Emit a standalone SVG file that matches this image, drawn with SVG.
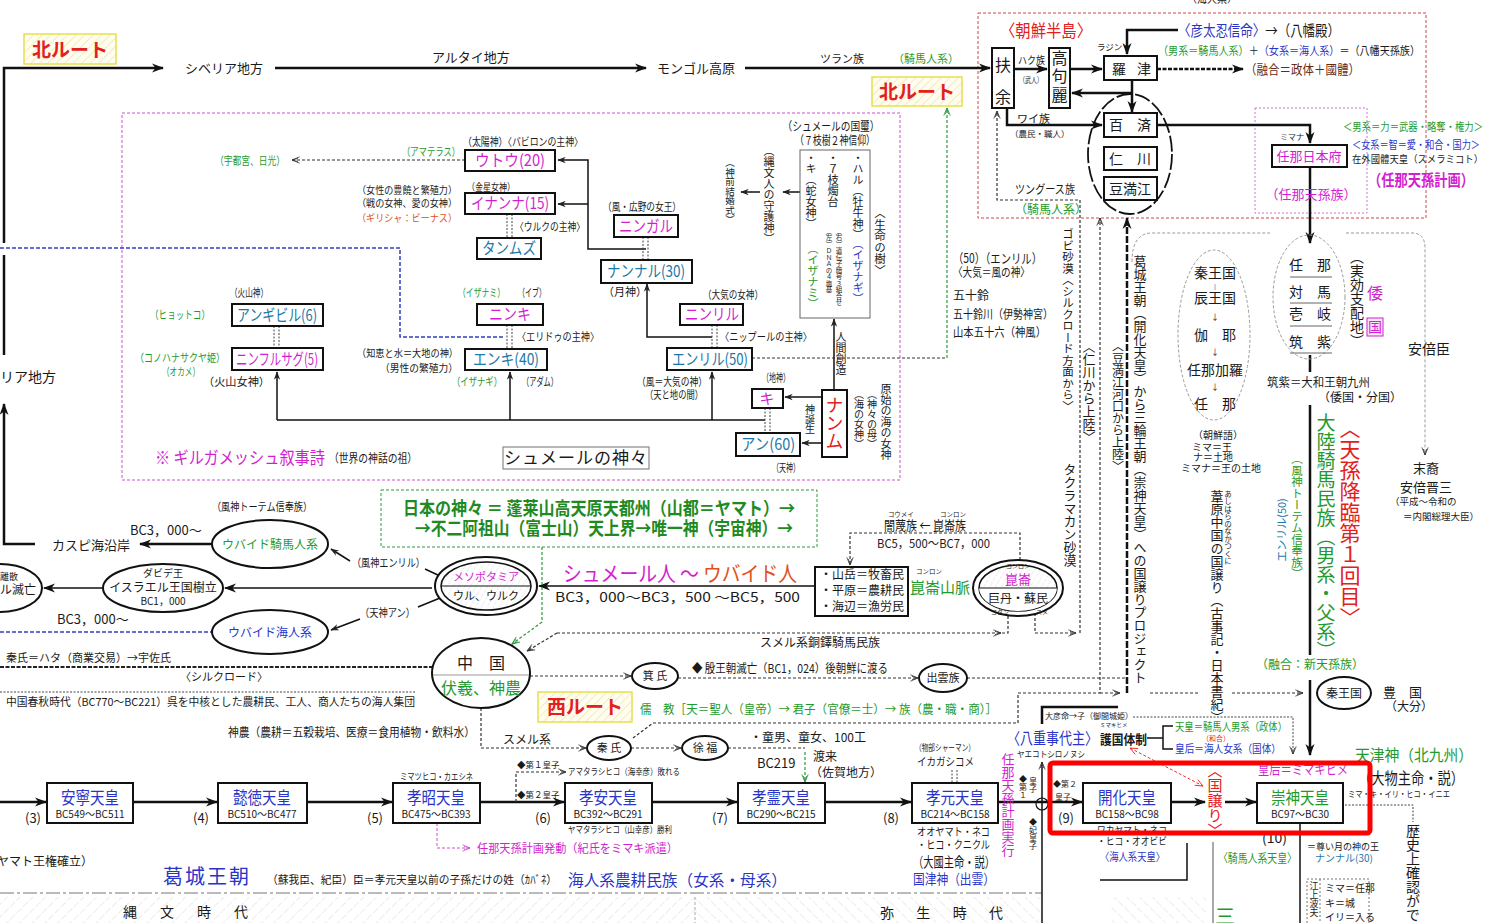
<svg xmlns="http://www.w3.org/2000/svg" width="1499" height="923" viewBox="0 0 1499 923">
<defs>
<style>
text{font-family:"Noto Sans CJK JP","Noto Sans",sans-serif;fill:#1a1a1a}
.m{fill:#d21fcf}.tl{fill:#1b78a8}.g{fill:#1f9a2c}.b{fill:#2a35c8}.r{fill:#e32020}.o{fill:#e0501a}.br{fill:#6a2a10}.dg{fill:#1f8a22}
.v{writing-mode:vertical-rl}
.mc{text-anchor:middle}
.bx{fill:#fff;stroke:#111;stroke-width:2}
.ln{fill:none;stroke:#111;stroke-width:1.5}
.tk{fill:none;stroke:#111;stroke-width:2.5}
.dl{fill:none;stroke:#333;stroke-width:1.2;stroke-dasharray:3 2}
.dd{fill:none;stroke:#444;stroke-width:1;stroke-dasharray:2 1.5}
.gd{fill:none;stroke:#2a9a3a;stroke-width:1.2;stroke-dasharray:3 2}
.pd{fill:none;stroke:#d050d0;stroke-width:1;stroke-dasharray:3 2}
.bd{fill:none;stroke:#3040c0;stroke-width:1.5;stroke-dasharray:4 2}
.el{fill:#fff;stroke:#111;stroke-width:2}
.yb{fill:url(#hy);stroke:#e6e04a;stroke-width:1.5}
</style>
<marker id="a" viewBox="0 0 12 10" refX="11" refY="5" markerWidth="12" markerHeight="10" orient="auto" markerUnits="userSpaceOnUse"><path d="M0,0.5 L12,5 L0,9.5 L3.5,5 z" fill="#111"/></marker>
<marker id="as" viewBox="0 0 12 10" refX="11" refY="5" markerWidth="9" markerHeight="7" orient="auto" markerUnits="userSpaceOnUse"><path d="M0,0.5 L12,5 L0,9.5 L3.5,5 z" fill="#222"/></marker>
<marker id="ao" viewBox="0 0 10 10" refX="9.5" refY="5" markerWidth="9" markerHeight="8" orient="auto" markerUnits="userSpaceOnUse"><path d="M0,1 L9.5,5 L0,9 M2,3 L9.5,5 L2,7" fill="none" stroke="#333" stroke-width="1"/></marker>
<marker id="ag" viewBox="0 0 10 10" refX="9.5" refY="5" markerWidth="9" markerHeight="8" orient="auto" markerUnits="userSpaceOnUse"><path d="M0,1 L9.5,5 L0,9 M2,3 L9.5,5 L2,7" fill="none" stroke="#2a9a3a" stroke-width="1.1"/></marker>
<marker id="ap" viewBox="0 0 10 10" refX="9.5" refY="5" markerWidth="9" markerHeight="8" orient="auto" markerUnits="userSpaceOnUse"><path d="M0,1 L9.5,5 L0,9 M2,3 L9.5,5 L2,7" fill="none" stroke="#d050d0" stroke-width="1"/></marker>
<marker id="ar" viewBox="0 0 10 10" refX="9.5" refY="5" markerWidth="10" markerHeight="8" orient="auto-start-reverse" markerUnits="userSpaceOnUse"><path d="M0,1 L9.5,5 L0,9" fill="none" stroke="#e03030" stroke-width="1.1"/></marker>
<pattern id="hy" width="6" height="6" patternUnits="userSpaceOnUse" patternTransform="rotate(45)"><rect width="6" height="6" fill="#fffdf0"/><line x1="0" y1="0" x2="0" y2="6" stroke="#ece3a0" stroke-width="1.3"/></pattern>
<pattern id="hg" width="9" height="9" patternUnits="userSpaceOnUse" patternTransform="rotate(45)"><line x1="0" y1="0" x2="0" y2="9" stroke="#cfcfcf" stroke-width="0.8" stroke-dasharray="4 2"/></pattern>
<pattern id="hp" width="9" height="9" patternUnits="userSpaceOnUse" patternTransform="rotate(-45)"><line x1="0" y1="0" x2="0" y2="9" stroke="#e2caca" stroke-width="0.8" stroke-dasharray="4 2"/></pattern>
<pattern id="hd" width="5" height="5" patternUnits="userSpaceOnUse" patternTransform="rotate(30)"><rect width="5" height="5" fill="#fff"/><line x1="0" y1="0" x2="0" y2="5" stroke="#bbb" stroke-width="0.7" stroke-dasharray="1.5 1.5"/></pattern>
</defs>
<rect width="1499" height="923" fill="#fff"/>

<g id="frames">
<rect x="122" y="113" width="778" height="367" fill="none" stroke="#d050d0" stroke-width="1" stroke-dasharray="3 2"/>
<rect x="978" y="13" width="448" height="205" fill="none" stroke="#d04848" stroke-width="1" stroke-dasharray="3 2"/>
<rect x="1255" y="108" width="112" height="105" fill="none" stroke="#d070d0" stroke-width="1" stroke-dasharray="2 2"/>
<rect x="381" y="490" width="436" height="57" fill="none" stroke="#2a9a3a" stroke-width="1" stroke-dasharray="3 2"/>
<rect x="0" y="897" width="695" height="26" fill="url(#hg)"/>
<rect x="695" y="897" width="347" height="26" fill="url(#hp)"/>
<rect x="1110" y="897" width="97" height="26" fill="url(#hp)"/>
<line x1="695" y1="897" x2="695" y2="923" stroke="#aaa" stroke-dasharray="3 2"/>
<path d="M0,893 H1042" fill="none" stroke="#777" stroke-width="1" stroke-dasharray="14 3 3 3"/>
<rect x="1307" y="879" width="62" height="50" fill="none" stroke="#777" stroke-width="1" stroke-dasharray="2 2"/>
<line x1="1320" y1="879" x2="1320" y2="923" stroke="#777" stroke-dasharray="2 2"/>
</g>

<g id="connectors">
<path class="tk" d="M4,243 V68 H163" marker-end="url(#a)"/>
<path class="tk" d="M4,255 V355"/>
<path class="tk" d="M275,68 H646" marker-end="url(#a)"/>
<path class="tk" d="M745,68 H990" marker-end="url(#a)"/>
<path class="tk" d="M1014,69 H1047" marker-end="url(#a)"/>
<path class="tk" d="M1070,69 H1102" marker-end="url(#a)"/>
<path class="tk" d="M1132,80 V112" marker-end="url(#a)"/>
<path class="tk" d="M1132,93 H1072" marker-end="url(#a)"/>
<path class="tk" d="M1178,30 H1127 V54" marker-end="url(#a)"/>
<path class="tk" d="M1157,69 H1243" stroke-dasharray="4 1.5" marker-end="url(#a)"/>
<path class="tk" d="M1007,108 V125 H1102" marker-end="url(#a)"/>
<path class="tk" d="M1157,125 H1310 V143" marker-end="url(#a)"/>
<path class="tk" d="M1310,167 V243" marker-end="url(#a)"/>
<path class="tk" d="M1127,693 V218" stroke-dasharray="7 2" marker-end="url(#a)"/>
<path class="dl" d="M1080,633 V200 H997 V111" marker-end="url(#ao)"/>
<path class="dl" d="M1035,613 V633 H1076" marker-end="url(#ao)"/>
<path class="dl" d="M633,738 L653,723 H1018 V693 H1100 V218" marker-end="url(#ao)"/>
<path class="dl" d="M1100,693 H1120" marker-end="url(#ao)"/>
<path class="dl" d="M1008,616 V633 H1001"/>
<path class="dl" d="M557,633 H1001" marker-end="url(#ao)"/>
<path class="dl" d="M557,633 L527,651" marker-end="url(#ao)"/>
<path class="dl" d="M465,160 H292" marker-end="url(#ao)"/>
<path class="ln" d="M646,249 H588 V160 H558" marker-end="url(#as)"/>
<path class="ln" d="M588,204 H558" marker-end="url(#as)"/>
<path class="ln" d="M712,337 H647 V284" marker-end="url(#as)"/>
<path class="ln" d="M277,420 H765"/>
<path class="ln" d="M277,420 V372" marker-end="url(#as)"/>
<path class="ln" d="M510,420 V372" marker-end="url(#as)"/>
<path class="ln" d="M712,420 V372" marker-end="url(#as)"/>
<path class="ln" d="M822,397 H785" marker-end="url(#as)"/>
<path class="ln" d="M822,443 H802" marker-end="url(#as)"/>
<path class="ln" d="M834,390 V319" marker-end="url(#as)"/>
<path class="ln" d="M800,192 H783" marker-end="url(#as)"/>
<path class="ln" d="M760,192 H741" marker-end="url(#as)"/>
<path class="dl" d="M752,358 H947"/>
<path class="gd" d="M947,358 V108" marker-end="url(#ag)"/>
<path class="bd" d="M0,248 H400 V337 H505"/>
<path class="dd" d="M507,214 V238 M512,214 V238 M643,237 V260 M648,237 V260 M507,325 V348 M512,325 V348 M712,325 V348 M717,325 V348 M274,326 V348 M279,326 V348 M765,408 V433 M770,408 V433 M952,770 V783 M957,770 V783"/>
<path class="tk" d="M212,544 H140" stroke-width="2" marker-end="url(#a)"/>
<path class="tk" d="M35,544 H4 V404" stroke-width="2" marker-end="url(#a)"/>
<path class="ln" d="M350,561 L331,549" marker-end="url(#as)"/>
<path class="ln" d="M425,569 L440,576"/>
<path class="ln" d="M432,588 H225" marker-end="url(#a)"/>
<path class="ln" d="M103,588 H44" marker-end="url(#a)"/>
<path class="ln" d="M815,586 H539" marker-end="url(#a)"/>
<path class="ln" d="M360,619 L331,630" marker-end="url(#as)"/>
<path class="ln" d="M440,598 L418,607"/>
<path class="bd" d="M0,632 H212" stroke-width="1.2"/>
<path class="gd" d="M542,547 V622 L512,644" marker-end="url(#ag)"/>
<path class="dl" d="M1020,560 V533 H850 V565" marker-end="url(#ao)"/>
<path d="M0,667 H432" fill="none" stroke="#222" stroke-width="2" stroke-dasharray="4 1.5"/>
<path class="dd" d="M0,692 H416"/>
<path class="dl" d="M530,676 H631" marker-end="url(#ao)"/>
<path class="dl" d="M678,678 H918" marker-end="url(#ao)"/>
<path class="dl" d="M967,678 H1125"/>
<path class="dl" d="M481,708 V748 H586" marker-end="url(#ao)"/>
<path class="dl" d="M631,748 H681" marker-end="url(#ao)"/>
<path class="dl" d="M728,748 H805"/>
<path class="gd" d="M805,752 V782" marker-end="url(#ag)"/>
<path class="tk" stroke-width="2" d="M0,802 H46" marker-end="url(#a)"/>
<path class="tk" stroke-width="2" d="M133,802 H217" marker-end="url(#a)"/>
<path class="tk" stroke-width="2" d="M307,802 H392" marker-end="url(#a)"/>
<path class="tk" stroke-width="2" d="M480,802 H564" marker-end="url(#a)"/>
<path class="tk" stroke-width="2" d="M652,802 H737" marker-end="url(#a)"/>
<path class="tk" stroke-width="2" d="M825,802 H911" marker-end="url(#a)"/>
<path class="tk" stroke-width="2" d="M998,802 H1082" marker-end="url(#a)"/>
<path class="tk" d="M1171,802 H1205" marker-end="url(#a)"/>
<path class="tk" d="M1225,802 H1256" marker-end="url(#a)"/>
<path class="dl" d="M516,802 V772 H566" marker-end="url(#ao)"/>
<path class="pd" d="M437,823 V848 H470" marker-end="url(#ap)"/>
<path class="tk" d="M1118,707 H1042 V724" stroke-width="2"/>
<path class="ln" d="M1042,923 V762" marker-end="url(#ao)"/>
<circle cx="1042" cy="804" r="6" fill="none" stroke="#111" stroke-width="1.2"/>
<path class="ln" d="M1147,738 H1163 M1173,726 H1163 V749 H1173" stroke-width="1"/>
<path d="M1130,748 L1203,786" fill="none" stroke="#e03030" stroke-width="1" stroke-dasharray="3 2" marker-start="url(#ar)" marker-end="url(#ar)"/>
<path class="dd" d="M1133,717 H1293 V754" marker-end="url(#ao)"/>
<path class="dd" d="M1345,805 H1413 V822"/>
<path class="ln" d="M1300,823 V923"/>
<path class="tk" d="M1310,355 V372 M1310,405 V655"/>
<path class="tk" d="M1310,680 V755" marker-end="url(#a)"/>
<path class="dl" d="M1150,693 H1200 M1232,693 H1303" marker-end="url(#ao)"/>
<path d="M1132,262 Q1132,233 1152,233 H1270 M1346,233 H1412 Q1425,233 1425,248 V455" fill="none" stroke="#999" stroke-width="1" stroke-dasharray="3 2" marker-end="url(#ao)"/>
<path class="ln" d="M1100,880 H1187 V843" stroke-width="1"/>
<path d="M1213,842 V923" fill="none" stroke="#555" stroke-width="1"/>
</g>

<g id="n-kita1"><rect class="yb" x="24" y="34" width="92" height="30"/><text x="70" y="57" font-size="19" font-weight="bold" class="r mc">北ルート</text></g>
<g id="n-kita2"><rect class="yb" x="872" y="77" width="90" height="29"/><text x="917" y="99" font-size="19" font-weight="bold" class="r mc">北ルート</text></g>
<g id="n-nishi"><rect class="yb" x="538" y="692" width="94" height="30"/><text x="585" y="714" font-size="19" font-weight="bold" class="r mc">西ルート</text></g>

<g id="labels-north" font-size="13">
<text x="185" y="73">シベリア地方</text>
<text x="432" y="62">アルタイ地方</text>
<text x="657" y="73">モンゴル高原</text>
<text x="820" y="63" font-size="11">ツラン族</text>
<text x="893" y="63" font-size="11" class="g">（騎馬人系）</text>
<text x="0" y="382" font-size="14">リア地方</text>
</g>

<g id="korea">
<text x="1046" y="37" font-size="17" class="r mc" textLength="92" lengthAdjust="spacingAndGlyphs">〈朝鮮半島〉</text>
<text x="1187" y="3" font-size="10">（海人系）</text>
<g id="n-fuyo"><rect class="bx" x="992" y="48" width="22" height="60" stroke-width="1.5"/><text x="1003" y="71" font-size="16" class="mc">扶</text><text x="1003" y="103" font-size="16" class="mc">余</text></g>
<g id="n-koguryo"><rect class="bx" x="1049" y="48" width="21" height="60" stroke-width="1.5"/><text x="1059.5" y="64" font-size="16" class="mc">高</text><text x="1059.5" y="82" font-size="16" class="mc">句</text><text x="1059.5" y="101" font-size="16" class="mc">麗</text></g>
<g id="n-rashin"><rect class="bx" x="1104" y="56" width="53" height="24" stroke-width="3"/><text x="1119" y="74" font-size="14" fill="#a02020" class="mc">羅</text><text x="1144" y="74" font-size="14" fill="#a02020" class="mc">津</text></g>
<text x="1097" y="50" font-size="8.5">ラジン</text>
<text x="1018" y="64" font-size="10" textLength="27" lengthAdjust="spacingAndGlyphs">ハク族</text>
<text x="1019" y="83" font-size="8" textLength="24" lengthAdjust="spacingAndGlyphs">（武人）</text>
<text x="1017" y="123" font-size="11">ワイ族</text>
<text x="1010" y="137" font-size="8.5">（農民・職人）</text>
<text x="1178" y="36" font-size="15" textLength="162" lengthAdjust="spacingAndGlyphs"><tspan class="b">〈彦太忍信命〉</tspan><tspan>→（八幡殿）</tspan></text>
<text x="1158" y="55" font-size="11.5" textLength="262" lengthAdjust="spacingAndGlyphs"><tspan class="g">（男系＝騎馬人系）</tspan><tspan>＋</tspan><tspan class="b">（女系＝海人系）</tspan><tspan>＝（八幡天孫族）</tspan></text>
<text x="1245" y="74" font-size="13" class="br" textLength="115" lengthAdjust="spacingAndGlyphs">（融合＝政体＋國體）</text>
<g id="n-peninsula"><ellipse cx="1130" cy="154" rx="42" ry="60" fill="none" stroke="#111" stroke-width="1.8" stroke-dasharray="16 3"/>
<rect class="bx" x="1104" y="113" width="53" height="24" stroke-width="1.5"/><text x="1130" y="130" font-size="14" class="mc">百　済</text>
<rect class="bx" x="1104" y="147" width="53" height="23" stroke-width="1.5"/><text x="1130" y="164" font-size="14" class="mc">仁　川</text>
<rect class="bx" x="1104" y="177" width="53" height="23" stroke-width="1.5"/><text x="1130" y="194" font-size="14" class="mc">豆満江</text></g>
<text x="1015" y="194" font-size="12" textLength="60" lengthAdjust="spacingAndGlyphs">ツングース族</text>
<text x="1015" y="214" font-size="12" class="g">（騎馬人系）</text>
<text x="1280" y="140" font-size="8">ミマナ</text>
<g id="n-mimana-fu"><rect class="bx" x="1272" y="145" width="75" height="22" stroke-width="1.5"/><text x="1309" y="161" font-size="13" class="m mc">任那日本府</text></g>
<text x="1311" y="199" font-size="13" class="m mc">（任那天孫族）</text>
<text x="1343" y="131" font-size="11" class="g" textLength="140" lengthAdjust="spacingAndGlyphs">＜男系＝力＝武器・略奪・権力＞</text>
<text x="1352" y="149" font-size="11" class="b" textLength="128" lengthAdjust="spacingAndGlyphs">＜女系＝智＝愛・和合・国力＞</text>
<text x="1352" y="163" font-size="10" fill="#202080" textLength="131" lengthAdjust="spacingAndGlyphs">在外國體天皇（スメラミコト）</text>
<text x="1368" y="186" font-size="16" class="m" font-weight="bold" textLength="106" lengthAdjust="spacingAndGlyphs">（任那天孫計画）</text>
</g>

<g id="sumer" font-size="11">
<text x="215" y="165" font-size="11" class="g" textLength="70" lengthAdjust="spacingAndGlyphs">（宇都宮、日光）</text>
<text x="402" y="156" class="g" textLength="58" lengthAdjust="spacingAndGlyphs">（アマテラス）</text>
<text x="463" y="146" textLength="120" lengthAdjust="spacingAndGlyphs">（太陽神）〈バビロンの主神〉</text>
<g id="n-utu"><rect class="bx" x="465" y="150" width="90" height="21"/><text x="510" y="166" font-size="16" class="m mc" textLength="70" lengthAdjust="spacingAndGlyphs">ウトウ(20)</text></g>
<text x="357" y="194" font-size="10" textLength="100" lengthAdjust="spacingAndGlyphs">（女性の豊饒と繁殖力）</text>
<text x="357" y="207" font-size="10" textLength="100" lengthAdjust="spacingAndGlyphs">（戦の女神、愛の女神）</text>
<text x="357" y="222" font-size="10" class="o" textLength="100" lengthAdjust="spacingAndGlyphs">（ギリシャ：ビーナス）</text>
<text x="467" y="191" font-size="10" textLength="48" lengthAdjust="spacingAndGlyphs">（金星女神）</text>
<g id="n-inanna"><rect class="bx" x="465" y="193" width="90" height="21"/><text x="510" y="209" font-size="16" class="m mc" textLength="78" lengthAdjust="spacingAndGlyphs">イナンナ(15)</text></g>
<text x="515" y="231" textLength="70" lengthAdjust="spacingAndGlyphs">〈ウルクの主神〉</text>
<g id="n-tammuz"><rect class="bx" x="477" y="238" width="64" height="21"/><text x="509" y="254" font-size="16" class="tl mc" textLength="54" lengthAdjust="spacingAndGlyphs">タンムズ</text></g>
<text x="603" y="211" textLength="78" lengthAdjust="spacingAndGlyphs">（風・広野の女王）</text>
<g id="n-ningal"><rect class="bx" x="614" y="215" width="64" height="22"/><text x="646" y="232" font-size="16" class="m mc" textLength="54" lengthAdjust="spacingAndGlyphs">ニンガル</text></g>
<g id="n-nannar"><rect class="bx" x="601" y="260" width="91" height="23"/><text x="646" y="277" font-size="16" class="tl mc" textLength="78" lengthAdjust="spacingAndGlyphs">ナンナル(30)</text></g>
<text x="603" y="296">（月神）</text>
<text x="703" y="299" textLength="60" lengthAdjust="spacingAndGlyphs">（大気の女神）</text>
<g id="n-ninlil"><rect class="bx" x="680" y="304" width="63" height="21"/><text x="712" y="320" font-size="16" class="m mc" textLength="54" lengthAdjust="spacingAndGlyphs">ニンリル</text></g>
<text x="720" y="341" textLength="92" lengthAdjust="spacingAndGlyphs">〈ニップールの主神〉</text>
<g id="n-enlil"><rect class="bx" x="667" y="348" width="85" height="22"/><text x="710" y="365" font-size="16" class="tl mc" textLength="76" lengthAdjust="spacingAndGlyphs">エンリル(50)</text></g>
<text x="637" y="386" textLength="70" lengthAdjust="spacingAndGlyphs">（風＝大気の神）</text>
<text x="645" y="399" textLength="58" lengthAdjust="spacingAndGlyphs">（天と地の間）</text>
<text x="458" y="297" class="g" textLength="47" lengthAdjust="spacingAndGlyphs">（イザナミ）</text>
<text x="518" y="297" textLength="28" lengthAdjust="spacingAndGlyphs">（イブ）</text>
<g id="n-ninki"><rect class="bx" x="477" y="304" width="66" height="21"/><text x="510" y="320" font-size="16" class="m mc" textLength="42" lengthAdjust="spacingAndGlyphs">ニンキ</text></g>
<text x="517" y="341" textLength="82" lengthAdjust="spacingAndGlyphs">〈エリドゥの主神〉</text>
<text x="357" y="357" font-size="10.5" textLength="101" lengthAdjust="spacingAndGlyphs">（知恵と水＝大地の神）</text>
<text x="380" y="372" font-size="10.5" textLength="78" lengthAdjust="spacingAndGlyphs">（男性の繁殖力）</text>
<g id="n-enki"><rect class="bx" x="465" y="349" width="82" height="21"/><text x="506" y="365" font-size="16" class="tl mc" textLength="66" lengthAdjust="spacingAndGlyphs">エンキ(40)</text></g>
<text x="452" y="386" class="g" textLength="50" lengthAdjust="spacingAndGlyphs">（イザナギ）</text>
<text x="522" y="386" textLength="36" lengthAdjust="spacingAndGlyphs">（アダム）</text>
<text x="230" y="297" textLength="38" lengthAdjust="spacingAndGlyphs">（火山神）</text>
<g id="n-angibil"><rect class="bx" x="232" y="304" width="91" height="22"/><text x="277" y="321" font-size="16" class="tl mc" textLength="80" lengthAdjust="spacingAndGlyphs">アンギビル(6)</text></g>
<text x="150" y="319" class="g" textLength="60" lengthAdjust="spacingAndGlyphs">（ヒョットコ）</text>
<g id="n-ninhursag"><rect class="bx" x="232" y="348" width="91" height="22"/><text x="277" y="365" font-size="16" class="m mc" textLength="82" lengthAdjust="spacingAndGlyphs">ニンフルサグ(5)</text></g>
<text x="135" y="362" class="g" textLength="90" lengthAdjust="spacingAndGlyphs">（コノハナサクヤ姫）</text>
<text x="162" y="376" class="g" textLength="38" lengthAdjust="spacingAndGlyphs">（オカメ）</text>
<text x="203" y="386" textLength="67" lengthAdjust="spacingAndGlyphs">（火山女神）</text>
<text x="155" y="464" font-size="17" class="m" textLength="170" lengthAdjust="spacingAndGlyphs">※ ギルガメッシュ叙事詩</text>
<text x="329" y="463" font-size="12" textLength="88" lengthAdjust="spacingAndGlyphs">（世界の神話の祖）</text>
<g id="n-sumer-title"><rect x="503" y="447" width="146" height="22" fill="#fff" stroke="#888" stroke-width="1.2"/><text x="576" y="464" font-size="17" class="mc" letter-spacing="1">シュメールの神々</text></g>
<text x="762" y="382" textLength="28" lengthAdjust="spacingAndGlyphs">（地神）</text>
<g id="n-ki"><rect class="bx" x="752" y="389" width="31" height="19"/><text x="767" y="404" font-size="15" class="m mc">キ</text></g>
<g id="n-an"><rect class="bx" x="736" y="433" width="64" height="23"/><text x="768" y="450" font-size="16" class="tl mc" textLength="54" lengthAdjust="spacingAndGlyphs">アン(60)</text></g>
<text x="772" y="472" textLength="28" lengthAdjust="spacingAndGlyphs">（天神）</text>
<g id="n-nammu"><rect class="bx" x="822" y="390" width="25" height="67"/><text x="834.5" y="396" font-size="18" class="r v">ナンム</text></g>
<text x="810" y="404" font-size="10" class="v">神誕生</text>
<text x="841" y="331" font-size="11" class="v">人間創造</text>
<text x="859" y="389" font-size="10" class="v">（海の女神）</text>
<text x="872" y="389" font-size="10" class="v">（神々の母）</text>
<text x="886" y="383" font-size="11" class="v">原始の海の女神</text>
<text x="831" y="131" font-size="12" class="mc" textLength="97" lengthAdjust="spacingAndGlyphs">（シュメールの国璽）</text>
<text x="835" y="145" font-size="12" class="mc" textLength="80" lengthAdjust="spacingAndGlyphs">（７枝樹２神信仰）</text>
<g id="n-seal"><rect x="800" y="150" width="70" height="168" fill="#fff" stroke="#666" stroke-width="1"/>
<text x="858" y="152" font-size="11" class="v">・ハル（牡牛神）</text>
<text x="858" y="238" font-size="11" class="v b">（イザナギ）</text>
<text x="833" y="152" font-size="11" class="v">・７枝燭台</text>
<text x="839" y="228" font-size="6.5" class="v">（右）遺伝子暗号３組合せ</text>
<text x="829" y="228" font-size="6.5" class="v">（左）ＤＮＡの４塩基</text>
<text x="811" y="152" font-size="11" class="v">・キ（蛇女神）</text>
<text x="813" y="243" font-size="11" class="v g">（イザナミ）</text></g>
<text x="880" y="207" font-size="11.5" class="v">〈生命の樹〉</text>
<text x="769" y="145" font-size="11" class="v">（縄文人の守護神）</text>
<text x="730" y="158" font-size="9.5" class="v">（神前結婚式）</text>
</g>

<g id="east-labels" font-size="12">
<text x="953" y="263" font-size="13" textLength="89" lengthAdjust="spacingAndGlyphs">（50）（エンリル）</text>
<text x="953" y="277" textLength="77" lengthAdjust="spacingAndGlyphs">〈大気＝風の神〉</text>
<text x="953" y="300">五十鈴</text>
<text x="953" y="319" textLength="100" lengthAdjust="spacingAndGlyphs">五十鈴川（伊勢神宮）</text>
<text x="953" y="337" textLength="93" lengthAdjust="spacingAndGlyphs">山本五十六（神風）</text>
<text x="1068" y="228" font-size="11.5" class="v">ゴビ砂漠〈シルクロード方面から〉</text>
<text x="1070" y="463" font-size="13" class="v">タクラマカン砂漠</text>
<text x="1089" y="340" font-size="13" class="v">〈仁川から上陸〉</text>
<text x="1118" y="340" font-size="12" class="v">〈豆満江河口から上陸〉</text>
<text x="1140" y="255" font-size="13" class="v">葛城王朝（開化天皇）から三輪王朝（崇神天皇）への国譲りプロジェクト</text>
</g>

<g id="japan-right" font-size="12">
<g id="n-kingdoms"><ellipse cx="1214" cy="335" rx="36" ry="85" fill="none" stroke="#999" stroke-width="1" stroke-dasharray="3 2"/>
<text x="1215" y="278" font-size="14" class="mc">秦王国</text>
<text x="1215" y="289" font-size="6" class="mc" fill="#777">‖</text>
<text x="1215" y="303" font-size="14" class="mc">辰王国</text>
<text x="1215" y="320" font-size="8" class="mc" fill="#777">↓</text>
<text x="1215" y="340" font-size="14" class="mc">伽　耶</text>
<text x="1215" y="355" font-size="8" class="mc" fill="#777">↓</text>
<text x="1215" y="375" font-size="14" class="mc">任那加羅</text>
<text x="1215" y="390" font-size="8" class="mc" fill="#777">↓</text>
<text x="1215" y="409" font-size="14" class="mc">任　那</text></g>
<text x="1218" y="439" font-size="10" class="mc">（朝鮮語）</text>
<text x="1212" y="451" font-size="10" class="mc">ミマ＝王</text>
<text x="1213" y="461" font-size="10" class="mc">ナ＝土地</text>
<text x="1221" y="472" font-size="10" class="mc">ミマナ＝王の土地</text>
<text x="1217" y="490" font-size="13" class="v">葦原中国の国譲り（古事記・日本書紀）</text>
<text x="1228" y="490" font-size="7.5" class="v">あしはらのなかつくに</text>
<g id="n-islands"><ellipse cx="1309" cy="297" rx="36" ry="62" fill="none" stroke="#999" stroke-width="1" stroke-dasharray="3 2"/>
<text x="1310" y="270" font-size="14" class="mc">任　那</text>
<path d="M1290,277 H1332 M1290,303 H1332 M1290,326 H1332 M1290,353 H1332" stroke="#666" stroke-width="1"/>
<text x="1310" y="297" font-size="14" class="mc">対　馬</text>
<text x="1310" y="319" font-size="14" class="mc">壱　岐</text>
<text x="1310" y="347" font-size="14" class="mc">筑　紫</text></g>
<text x="1357" y="250" font-size="14" class="v">（実効支配地）</text>
<text x="1375" y="299" font-size="16" class="m mc">倭</text>
<rect x="1367" y="318" width="16" height="18" fill="#fbe6fb" stroke="#d21fcf" stroke-width="1"/>
<text x="1375" y="332" font-size="14" class="m mc">国</text>
<text x="1408" y="354" font-size="14">安倍臣</text>
<text x="1267" y="387" textLength="103" lengthAdjust="spacingAndGlyphs">筑紫＝大和王朝九州</text>
<text x="1318" y="402">（倭国・分国）</text>
<text x="1326" y="413" font-size="19" class="v g">大陸騎馬民族（男系・父系）</text>
<text x="1350" y="418" font-size="21" class="v r">〈天孫降臨第１回目〉</text>
<text x="1297" y="453" font-size="11.5" class="v g">（風神トーテム信奉族）</text>
<text transform="translate(1286,530) rotate(-90)" font-size="11" class="tl mc">エンリル(50)</text>
<text x="1310" y="669" class="g mc">（融合：新天孫族）</text>
<g id="n-hata-kingdom"><ellipse class="el" cx="1344" cy="693" rx="27" ry="16" stroke-width="1.5"/><text x="1344" y="698" font-size="12" class="mc">秦王国</text></g>
<text x="1383" y="697" font-size="13">豊　国</text>
<text x="1385" y="711">（大分）</text>
<text x="1426" y="473" font-size="13" class="mc">末裔</text>
<text x="1426" y="492" font-size="13" class="mc">安倍晋三</text>
<text x="1390" y="505" font-size="9.5">（平成～令和の</text>
<text x="1403" y="520" font-size="9.5">＝内閣総理大臣）</text>
</g>

<g id="middle" font-size="12">
<text x="403" y="515" font-size="18" font-weight="bold" class="dg" textLength="392" lengthAdjust="spacingAndGlyphs">日本の神々 ＝ 蓬莱山高天原天都州（山都＝ヤマト）→</text>
<text x="415" y="535" font-size="18" font-weight="bold" class="dg" textLength="378" lengthAdjust="spacingAndGlyphs">→不二阿祖山（富士山）天上界→唯一神（宇宙神）→</text>
<text x="212" y="511" font-size="11" textLength="100" lengthAdjust="spacingAndGlyphs">（風神トーテム信奉族）</text>
<g id="n-ubaid-horse"><ellipse class="el" cx="270" cy="544" rx="58" ry="24"/><text x="270" y="549" class="g mc">ウバイド騎馬人系</text></g>
<text x="130" y="535" font-size="13">BC3，000～</text>
<text x="52" y="550" font-size="13">カスピ海沿岸</text>
<text x="352" y="567" font-size="11" textLength="73" lengthAdjust="spacingAndGlyphs">（風神エンリル）</text>
<g id="n-israel"><ellipse class="el" cx="163" cy="588" rx="60" ry="24"/><text x="163" y="577" font-size="10" class="mc">ダビデ王</text><text x="163" y="592" class="mc">イスラエル王国樹立</text><text x="163" y="605" font-size="10" class="mc">BC1，000</text></g>
<g id="n-dispersal"><ellipse class="el" cx="0" cy="588" rx="42" ry="24"/><text x="0" y="580" font-size="9">離散</text><text x="0" y="594">ル滅亡</text></g>
<g id="n-mesopotamia"><ellipse class="el" cx="486" cy="586" rx="51" ry="29"/><ellipse cx="486" cy="586" rx="45" ry="24" fill="url(#hd)" stroke="#111" stroke-width="1.5"/><line x1="441" y1="586" x2="531" y2="586" stroke="#111" stroke-width="1.2"/><text x="486" y="581" font-size="11" class="m mc">メソポタミア</text><text x="486" y="600" font-size="11" class="mc">ウル、ウルク</text></g>
<text x="360" y="617" font-size="11" textLength="55" lengthAdjust="spacingAndGlyphs">（天神アン）</text>
<g id="n-ubaid-sea"><ellipse class="el" cx="270" cy="632" rx="58" ry="22"/><text x="270" y="637" class="b mc">ウバイド海人系</text></g>
<text x="57" y="624" font-size="13">BC3，000～</text>
<text x="563" y="581" font-size="21" textLength="234" lengthAdjust="spacingAndGlyphs"><tspan class="m">シュメール人 ～ </tspan><tspan class="o">ウバイド人</tspan></text>
<text x="555" y="602" font-size="13" textLength="245" lengthAdjust="spacingAndGlyphs">BC3，000～BC3，500 ～BC5，500</text>
<g id="n-people"><rect class="bx" x="815" y="567" width="93" height="49"/><text x="820" y="579">・山岳＝牧畜民</text><text x="820" y="595">・平原＝農耕民</text><text x="820" y="611">・海辺＝漁労民</text></g>
<text x="910" y="593" font-size="15" class="g" textLength="60" lengthAdjust="spacingAndGlyphs">崑崙山脈</text>
<text x="916" y="574" font-size="6.5">コンロン</text>
<g id="n-kunlun"><ellipse class="el" cx="1018" cy="588" rx="45" ry="28"/><ellipse cx="1018" cy="588" rx="39" ry="23" fill="url(#hd)" stroke="#111" stroke-width="1.5"/><path d="M979,588 A39,23 0 0 0 1057,588 Z" fill="#fff"/><line x1="979" y1="588" x2="1057" y2="588" stroke="#111" stroke-width="1.2"/><text x="1018" y="584" font-size="13" class="m mc">崑崙</text><text x="1018" y="603" font-size="12" class="mc">巨丹・蘇民</text><text x="1018" y="568" font-size="6" class="mc">コンロン</text><text x="1000" y="614" font-size="6" class="mc">コタン</text><text x="1042" y="614" font-size="6" class="mc">スメ</text></g>
<text x="884" y="530" font-size="13" textLength="82" lengthAdjust="spacingAndGlyphs">闇蔑族 ← 崑崙族</text>
<text x="888" y="517" font-size="6.5">コウメイ</text>
<text x="940" y="517" font-size="6.5">コンロン</text>
<text x="877" y="548" font-size="12" textLength="113" lengthAdjust="spacingAndGlyphs">BC5，500～BC7，000</text>
</g>

<g id="china" font-size="12">
<text x="6" y="662" font-size="11">秦氏＝ハタ（商業交易）→宇佐氏</text>
<text x="180" y="681" font-size="11">〈シルクロード〉</text>
<text x="6" y="706" font-size="11" textLength="409" lengthAdjust="spacingAndGlyphs">中国春秋時代（BC770～BC221）呉を中核とした農耕民、工人、商人たちの海人集団</text>
<text x="228" y="737" textLength="247" lengthAdjust="spacingAndGlyphs">神農（農耕＝五穀栽培、医療＝食用植物・飲料水）</text>
<g id="n-china"><ellipse class="el" cx="481" cy="673" rx="49" ry="35"/><line x1="433" y1="675" x2="529" y2="675" stroke="#999" stroke-width="1"/><text x="481" y="669" font-size="16" class="mc">中　国</text><text x="481" y="694" font-size="16" class="g mc">伏羲、神農</text></g>
<g id="n-kishi"><ellipse class="el" cx="655" cy="676" rx="23" ry="13" stroke-width="1.8"/><text x="655" y="680" font-size="11" class="mc">箕 氏</text></g>
<text x="692" y="673" textLength="196" lengthAdjust="spacingAndGlyphs">◆ 殷王朝滅亡（BC1，024）後朝鮮に渡る</text>
<g id="n-izumo"><ellipse class="el" cx="943" cy="678" rx="24" ry="14" stroke-width="1.8"/><text x="943" y="682" font-size="11" class="mc">出雲族</text></g>
<text x="760" y="647">スメル系銅鐸騎馬民族</text>
<text x="640" y="714" class="g" textLength="357" lengthAdjust="spacingAndGlyphs">儒　教［天＝聖人（皇帝）→ 君子（官僚＝士）→ 族（農・職・商）］</text>
<text x="503" y="744">スメル系</text>
<g id="n-hata"><ellipse class="el" cx="609" cy="748" rx="22" ry="12" stroke-width="1.8"/><text x="609" y="752" font-size="11" class="mc">秦 氏</text></g>
<g id="n-jofuku"><ellipse class="el" cx="705" cy="748" rx="23" ry="12" stroke-width="1.8"/><text x="705" y="752" font-size="11" class="mc">徐 福</text></g>
<text x="750" y="742">・童男、童女、100工</text>
<text x="757" y="768" font-size="13">BC219</text>
<text x="813" y="761">渡来</text>
<text x="810" y="777">（佐賀地方）</text>
</g>

<g id="emperors">
<g id="n-annei"><rect class="bx" x="47" y="783" width="86" height="40"/><text x="90" y="804" font-size="17" class="b mc" textLength="58" lengthAdjust="spacingAndGlyphs">安寧天皇</text><text x="90" y="818" font-size="10" class="mc">BC549～BC511</text></g>
<g id="n-itoku"><rect class="bx" x="218" y="783" width="89" height="40"/><text x="262" y="804" font-size="17" class="b mc" textLength="58" lengthAdjust="spacingAndGlyphs">懿徳天皇</text><text x="262" y="818" font-size="10" class="mc">BC510～BC477</text></g>
<g id="n-kosho"><rect class="bx" x="393" y="783" width="87" height="40"/><text x="436" y="804" font-size="17" class="b mc" textLength="58" lengthAdjust="spacingAndGlyphs">孝昭天皇</text><text x="436" y="818" font-size="10" class="mc">BC475～BC393</text></g>
<g id="n-koan"><rect class="bx" x="565" y="783" width="87" height="40"/><text x="608" y="804" font-size="17" class="b mc" textLength="58" lengthAdjust="spacingAndGlyphs">孝安天皇</text><text x="608" y="818" font-size="10" class="mc">BC392～BC291</text></g>
<g id="n-korei"><rect class="bx" x="738" y="783" width="87" height="40"/><text x="781" y="804" font-size="17" class="b mc" textLength="58" lengthAdjust="spacingAndGlyphs">孝霊天皇</text><text x="781" y="818" font-size="10" class="mc">BC290～BC215</text></g>
<g id="n-kogen"><rect class="bx" x="912" y="783" width="86" height="40"/><text x="955" y="804" font-size="17" class="b mc" textLength="58" lengthAdjust="spacingAndGlyphs">孝元天皇</text><text x="955" y="818" font-size="10" class="mc">BC214～BC158</text></g>
<g id="n-kaika"><rect class="bx" x="1083" y="783" width="88" height="40"/><text x="1127" y="804" font-size="17" class="b mc" textLength="58" lengthAdjust="spacingAndGlyphs">開化天皇</text><text x="1127" y="818" font-size="10" class="mc">BC158～BC98</text></g>
<g id="n-sujin"><rect class="bx" x="1257" y="783" width="86" height="40"/><text x="1300" y="804" font-size="17" class="g mc" textLength="58" lengthAdjust="spacingAndGlyphs">崇神天皇</text><text x="1300" y="818" font-size="10" class="mc">BC97～BC30</text></g>
<g font-size="13"><text x="25" y="823">(3)</text><text x="193" y="823">(4)</text><text x="367" y="823">(5)</text><text x="535" y="823">(6)</text><text x="712" y="823">(7)</text><text x="883" y="823">(8)</text><text x="1058" y="823">(9)</text><text x="1262" y="843" font-size="14">(10)</text></g>
<text x="400" y="780" font-size="9" textLength="73" lengthAdjust="spacingAndGlyphs">ミマツヒコ・カエシネ</text>
<text x="517" y="768" font-size="8.5">◆第１皇子</text>
<text x="568" y="775" font-size="9" textLength="112" lengthAdjust="spacingAndGlyphs">アマタラシヒコ（海幸彦）敗れる</text>
<text x="517" y="798" font-size="8.5">◆第２皇子</text>
<text x="568" y="833" font-size="9" textLength="104" lengthAdjust="spacingAndGlyphs">ヤマタラシヒコ（山幸彦）勝利</text>
<text x="477" y="853" font-size="12" class="m" textLength="201" lengthAdjust="spacingAndGlyphs">任那天孫計画発動（紀氏をミマキ派遣）</text>
<text x="915" y="751" font-size="9" textLength="60" lengthAdjust="spacingAndGlyphs">（物部シャーマン）</text>
<text x="917" y="766" font-size="11" textLength="57" lengthAdjust="spacingAndGlyphs">イカガシコメ</text>
<text x="917" y="836" font-size="11" textLength="73" lengthAdjust="spacingAndGlyphs">オオヤマト・ネコ</text>
<text x="917" y="849" font-size="11" textLength="73" lengthAdjust="spacingAndGlyphs">・ヒコ・クニクル</text>
<text x="913" y="867" font-size="14" textLength="82" lengthAdjust="spacingAndGlyphs">（大國主命・説）</text>
<text x="913" y="884" font-size="14" class="b" textLength="82" lengthAdjust="spacingAndGlyphs">国津神（出雲）</text>
<text x="1008" y="753" font-size="13" class="v m">任那天孫計画実行</text>
<text x="1023" y="775" font-size="8" class="v">◆第１</text>
<text x="1033" y="777" font-size="8" class="v">皇子</text>
<text x="1033" y="818" font-size="8" class="v">◆妃皇子</text>
<text x="1053" y="787" font-size="8">◆第２</text>
<text x="1055" y="800" font-size="8">皇子</text>
<text x="1007" y="744" font-size="16" class="b" textLength="91" lengthAdjust="spacingAndGlyphs">〈八重事代主〉</text>
<text x="1017" y="757" font-size="8.5" textLength="68" lengthAdjust="spacingAndGlyphs">ヤエコトシロノヌシ</text>
<text x="1045" y="719" font-size="8" fill="#d0207a">大彦命→子（御間城姫）</text>
<text x="1100" y="727" font-size="5.5" fill="#d0207a">ミマキヒメ</text>
<text x="1100" y="744" font-size="13" font-weight="bold" fill="#d02040" textLength="47" lengthAdjust="spacingAndGlyphs">護国体制</text>
<text x="1175" y="731" font-size="11" class="g" textLength="112" lengthAdjust="spacingAndGlyphs">天皇＝騎馬人男系（政体）</text>
<text x="1202" y="741" font-size="7" class="r">（和合）</text>
<text x="1175" y="753" font-size="11" class="b" textLength="106" lengthAdjust="spacingAndGlyphs">皇后＝海人女系（国体）</text>
<text x="1215" y="763" font-size="15" class="v r">〈国譲り〉</text>
<text x="1258" y="774" font-size="13" class="m" textLength="90" lengthAdjust="spacingAndGlyphs">皇后＝ミマキヒメ</text>
<text x="1097" y="834" font-size="10" textLength="70" lengthAdjust="spacingAndGlyphs">ワカヤマト・ネコ</text>
<text x="1097" y="845" font-size="10" textLength="70" lengthAdjust="spacingAndGlyphs">・ヒコ・オオビビ</text>
<text x="1100" y="861" font-size="11" class="b" textLength="65" lengthAdjust="spacingAndGlyphs">〈海人系天皇〉</text>
<text x="1218" y="863" font-size="12" class="g" textLength="79" lengthAdjust="spacingAndGlyphs">〈騎馬人系天皇〉</text>
<text x="1355" y="761" font-size="16" class="g" textLength="118" lengthAdjust="spacingAndGlyphs">天津神（北九州）</text>
<text x="1358" y="784" font-size="16" textLength="106" lengthAdjust="spacingAndGlyphs">（大物主命・説）</text>
<text x="1348" y="797" font-size="8.5" textLength="102" lengthAdjust="spacingAndGlyphs">ミマ・キ・イリ・ヒコ・イニエ</text>
<text x="1307" y="850" font-size="9">＝尊い月の神の王</text>
<text x="1315" y="862" font-size="10" class="tl">ナンナル(30)</text>
<text x="1413" y="824" font-size="14" class="v">歴史上確認ができ</text>
<text x="1314" y="881" font-size="9" class="v">江上波夫</text>
<text x="1325" y="892" font-size="10">ミマ＝任那</text>
<text x="1325" y="907" font-size="10">キ＝城</text>
<text x="1325" y="921" font-size="10">イリ＝入る</text>
<text x="1225" y="924" font-size="20" class="g mc">三</text>
<rect x="1050" y="763" width="320" height="70" rx="3" fill="none" stroke="#ff0000" stroke-width="5"/>
</g>

<g id="bottom">
<text x="-3" y="866" font-size="12">ヤマト王権確立）</text>
<text x="163" y="884" font-size="20" class="b" letter-spacing="2">葛城王朝</text>
<text x="267" y="884" font-size="11.5" textLength="290" lengthAdjust="spacingAndGlyphs">（蘇我臣、紀臣）臣＝孝元天皇以前の子孫だけの姓（ｶﾊﾞﾈ）</text>
<text x="568" y="886" font-size="16" class="b" textLength="219" lengthAdjust="spacingAndGlyphs">海人系農耕民族（女系・母系）</text>
<text x="123" y="917" font-size="14" textLength="125" lengthAdjust="spacing">縄　文　時　代</text>
<text x="880" y="918" font-size="14" textLength="123" lengthAdjust="spacing">弥　生　時　代</text>
</g>
</svg>
